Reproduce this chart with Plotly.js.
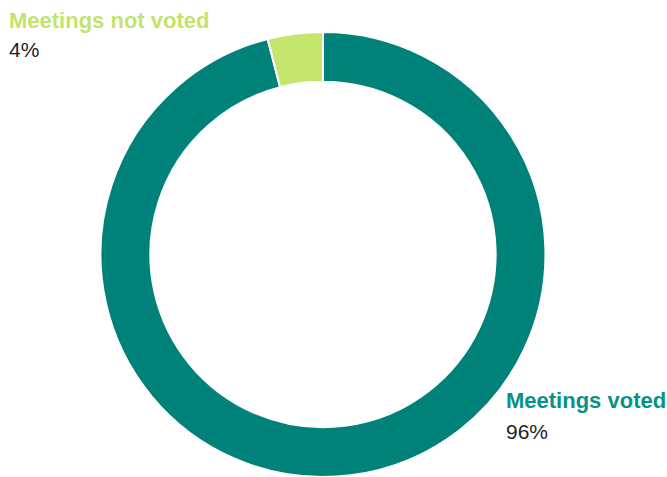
<!DOCTYPE html>
<html>
<head>
<meta charset="utf-8">
<script src="https://cdn.plot.ly/plotly-3.0.1.min.js"></script>
<style>html,body{margin:0;padding:0;background:#fff;}#chart{width:667px;height:477px;}</style>
</head>
<body>
<div id="chart"></div>
<script>
const labels = ["Meetings voted", "Meetings not voted"];
const values = [96, 4];
const pctLabels = ["96%", "4%"];
const colors = ["#00827a", "#c5e66d"];
const textColors = ["#069286", "#c2e46c"];

const data = [{
  type: "pie",
  labels: labels,
  values: values,
  hole: 0.776,
  sort: false,
  direction: "counterclockwise",
  rotation: 0,
  marker: {colors: colors, line: {color: "#ffffff", width: 2}},
  textinfo: "none",
  hoverinfo: "label+percent",
  showlegend: false,
  domain: {x: [0.1507, 0.8178], y: [0, 0.933]}
}];

const fontFam = "Liberation Sans, Arial, sans-serif";
const layout = {
  width: 667, height: 477,
  margin: {l: 0, r: 0, t: 0, b: 0},
  paper_bgcolor: "#ffffff",
  plot_bgcolor: "#ffffff",
  showlegend: false,
  annotations: [
    {text: "<b>" + labels[1] + "</b>", x: 7, y: 477 - 35, xref: "x", yref: "y", showarrow: false, xanchor: "left", yanchor: "bottom", font: {family: fontFam, size: 22, color: textColors[1]}},
    {text: pctLabels[1], x: 7, y: 477 - 63, xref: "x", yref: "y", showarrow: false, xanchor: "left", yanchor: "bottom", font: {family: fontFam, size: 21, color: "#1e1e1e"}},
    {text: "<b>" + labels[0] + "</b>", x: 504, y: 477 - 415, xref: "x", yref: "y", showarrow: false, xanchor: "left", yanchor: "bottom", font: {family: fontFam, size: 22, color: textColors[0]}},
    {text: pctLabels[0], x: 504, y: 477 - 445, xref: "x", yref: "y", showarrow: false, xanchor: "left", yanchor: "bottom", font: {family: fontFam, size: 21, color: "#1e1e1e"}}
  ],
  xaxis: {range: [0, 667], visible: false, fixedrange: true},
  yaxis: {range: [0, 477], visible: false, fixedrange: true}
};

Plotly.newPlot("chart", data, layout, {displayModeBar: false, staticPlot: true});
</script>
</body>
</html>
